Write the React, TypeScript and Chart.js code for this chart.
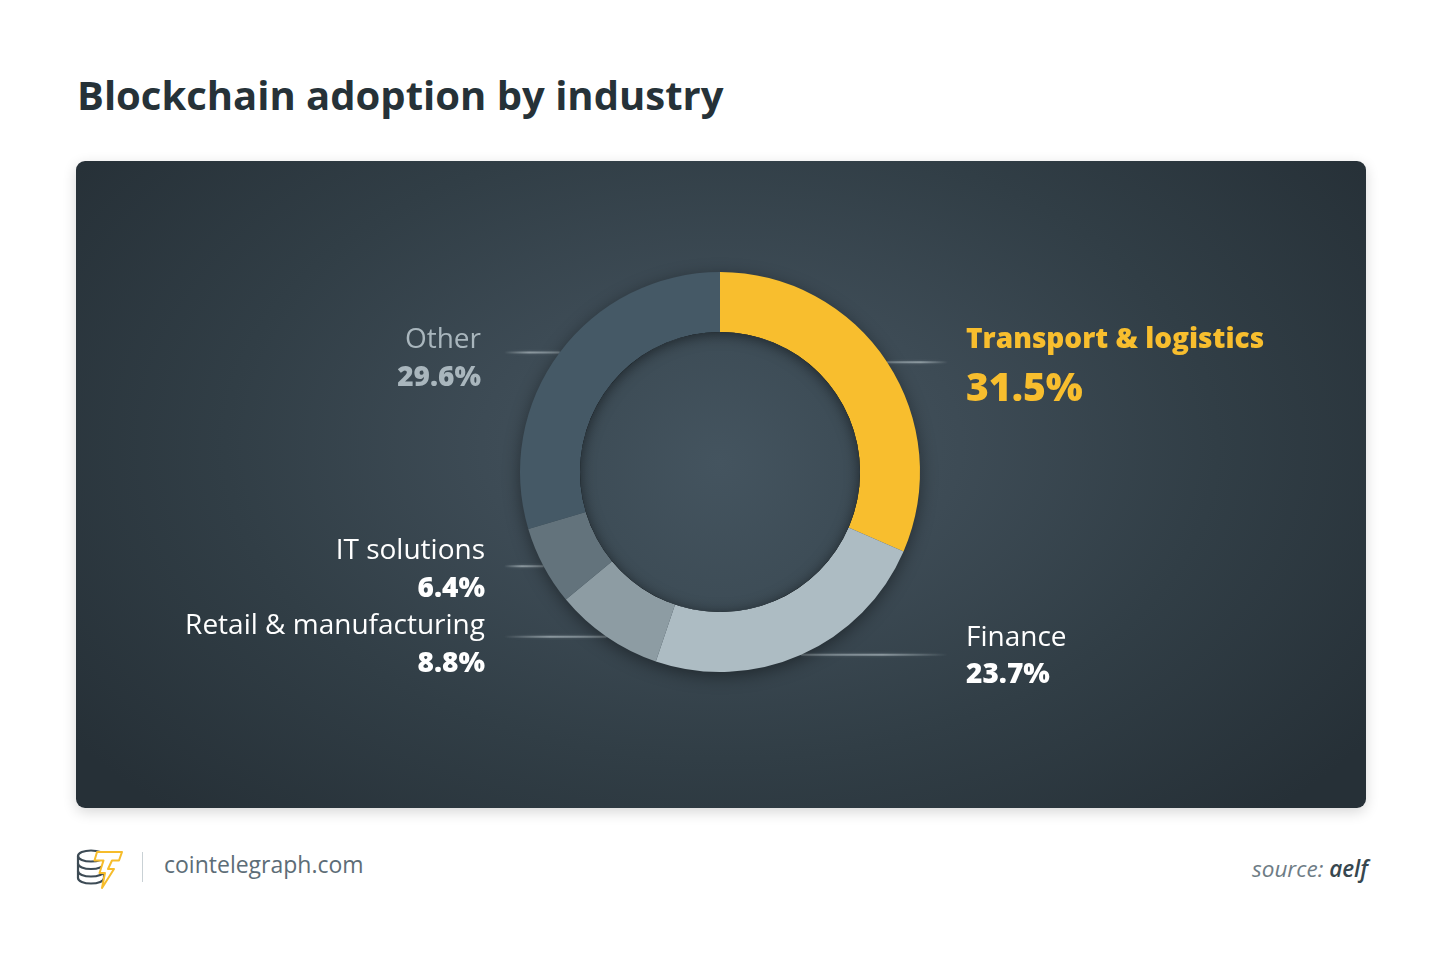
import React, { useEffect, useRef, useState } from "react";
import { Chart, registerables } from "chart.js";

Chart.register(...registerables);

// ---------- data ----------
const TITLE = "Blockchain adoption by industry";
const CATEGORIES = ["Transport & logistics", "Finance", "Retail & manufacturing", "IT solutions", "Other"];
const SHARES = [31.5, 23.7, 8.8, 6.4, 29.6];
const SITE = "cointelegraph.com";
const SOURCE_LABEL = "source:";
const SOURCE = "aelf";

// ---------- styles ----------
const SEGMENT_COLORS = ["#f8be2e", "#adbcc3", "#8d9ca3", "#63737c", "#455966"];
const LABEL_COLORS = ["#f8be2e", "#ffffff", "#ffffff", "#ffffff", "#a9b6bd"];
const FONT = "'Open Sans', 'Noto Sans', sans-serif";

// ---------- layout ----------
const CARD = { left: 76, top: 161, width: 1290, height: 647 };
const PAD = { left: 444, right: 446, top: 111, bottom: 136 };
const LINE_REACH = { right: 228, left: 216 };
// per label: horizontal gap from leader end, vertical offsets of name / value centre, sizes
const LABEL_STYLE = [
  { gap: 18, nameDy: -24, valDy: 24, nameSize: 28, valSize: 39, nameWeight: 800 },
  { gap: 18, nameDy: -19, valDy: 18, nameSize: 28, valSize: 28, nameWeight: 400 },
  { gap: 19, nameDy: -12.5, valDy: 25.5, nameSize: 28, valSize: 28, nameWeight: 400 },
  { gap: 19, nameDy: -17.5, valDy: 21, nameSize: 28, valSize: 28, nameWeight: 400 },
  { gap: 23, nameDy: -15, valDy: 23.5, nameSize: 28, valSize: 28, nameWeight: 400 },
];

type Anchor = { x: number; y: number; right: boolean; ex: number };

function arcAnchor(arc: any): Anchor {
  const p = arc.getProps(["x", "y", "startAngle", "endAngle", "outerRadius"], true);
  const mid = (p.startAngle + p.endAngle) / 2;
  const sx = p.x + Math.cos(mid) * p.outerRadius;
  const sy = p.y + Math.sin(mid) * p.outerRadius;
  const right = Math.cos(mid) >= 0;
  const ex = right ? p.x + LINE_REACH.right : p.x - LINE_REACH.left;
  return { x: sx, y: sy, right, ex };
}

const leaderPlugin = {
  id: "leaders",
  beforeDatasetsDraw(chart: any) {
    const ctx = chart.ctx as CanvasRenderingContext2D;
    const meta = chart.getDatasetMeta(0);
    meta.data.forEach((arc: any) => {
      const a = arcAnchor(arc);
      const g = ctx.createLinearGradient(a.x, a.y, a.ex, a.y);
      g.addColorStop(0, "rgba(150,163,170,0.55)");
      g.addColorStop(0.55, "rgba(160,172,178,0.75)");
      g.addColorStop(1, "rgba(160,172,178,0)");
      ctx.save();
      ctx.strokeStyle = g;
      ctx.lineWidth = 2;
      ctx.shadowColor = "rgba(190,200,205,0.35)";
      ctx.shadowBlur = 3;
      ctx.beginPath();
      ctx.moveTo(a.x, a.y);
      ctx.lineTo(a.ex, a.y);
      ctx.stroke();
      ctx.restore();
    });
    const first = meta.data[0] as any;
    if (!first) return;
    const p = first.getProps(["x", "y", "outerRadius"], true);
    ctx.save();
    ctx.shadowColor = "rgba(0,0,0,0.45)";
    ctx.shadowBlur = 18;
    ctx.shadowOffsetY = 4;
    ctx.fillStyle = "#3b4952";
    ctx.beginPath();
    ctx.arc(p.x, p.y, p.outerRadius - 1, 0, Math.PI * 2);
    ctx.fill();
    ctx.restore();
  },
  afterDatasetsDraw(chart: any) {
    const ctx = chart.ctx as CanvasRenderingContext2D;
    const meta = chart.getDatasetMeta(0);
    const first = meta.data[0] as any;
    if (!first) return;
    const p = first.getProps(["x", "y", "innerRadius"], true);
    ctx.save();
    ctx.beginPath();
    ctx.arc(p.x, p.y, p.innerRadius, 0, Math.PI * 2);
    ctx.clip();
    const rg = ctx.createRadialGradient(p.x, p.y - 10, 0, p.x, p.y, p.innerRadius);
    rg.addColorStop(0, "#44545f");
    rg.addColorStop(1, "#3d4c56");
    ctx.fillStyle = rg;
    ctx.fillRect(p.x - p.innerRadius, p.y - p.innerRadius, p.innerRadius * 2, p.innerRadius * 2);
    ctx.shadowColor = "rgba(0,0,0,0.5)";
    ctx.shadowBlur = 14;
    ctx.shadowOffsetY = 2;
    ctx.strokeStyle = "#000";
    ctx.lineWidth = 40;
    ctx.beginPath();
    ctx.arc(p.x, p.y, p.innerRadius + 20, 0, Math.PI * 2);
    ctx.stroke();
    ctx.restore();
  },
};

function Logo() {
  return (
    <svg
      width={52}
      height={46}
      viewBox="0 0 52 46"
      style={{ position: "absolute", left: 76, top: 845 }}
    >
      <g fill="none" stroke="#3d4b55" strokeWidth={2.2} strokeLinecap="round">
        <ellipse cx={15} cy={11} rx={13} ry={5.5} />
        <path d="M2 11 L2 33 M28 11 L28 33" />
        <path d="M2 18.5 A13 5.5 0 0 0 28 18.5" />
        <path d="M2 26 A13 5.5 0 0 0 28 26" />
        <path d="M2 33 A13 5.5 0 0 0 28 33" />
      </g>
      <path
        d="M21 7 L46 7 L43 15.5 L36 15.5 L32 24 L38 24 L26 43 L29 28 L23.5 28 L27.5 15.5 L18.5 15.5 Z"
        fill="#ffffff"
        stroke="#f6bc2b"
        strokeWidth={2}
        strokeLinejoin="round"
      />
    </svg>
  );
}

export default function App() {
  const canvasRef = useRef<HTMLCanvasElement | null>(null);
  const [anchors, setAnchors] = useState<Anchor[]>([]);

  useEffect(() => {
    if (!canvasRef.current) return;
    const chart = new Chart(canvasRef.current, {
      type: "doughnut",
      data: {
        labels: CATEGORIES,
        datasets: [
          {
            data: SHARES,
            backgroundColor: SEGMENT_COLORS,
            borderWidth: 0,
            hoverOffset: 0,
          },
        ],
      },
      options: {
        responsive: false,
        animation: false,
        cutout: "70%",
        events: [],
        layout: { padding: PAD },
        plugins: {
          legend: { display: false },
          tooltip: { enabled: false },
        },
      },
      plugins: [leaderPlugin as any],
    });
    const meta = chart.getDatasetMeta(0);
    setAnchors(meta.data.map((arc: any) => arcAnchor(arc)));
    return () => chart.destroy();
  }, []);

  return (
    <div
      style={{
        position: "absolute",
        left: 0,
        top: 0,
        width: 1450,
        height: 960,
        background: "#ffffff",
        fontFamily: FONT,
        overflow: "hidden",
      }}
    >
      <div
        style={{
          position: "absolute",
          left: 77,
          top: 96 - 0.53 * 40,
          fontSize: 40,
          lineHeight: "40px",
          fontWeight: 700,
          color: "#263238",
          whiteSpace: "nowrap",
        }}
      >
        {TITLE}
      </div>

      <div
        style={{
          position: "absolute",
          left: CARD.left,
          top: CARD.top,
          width: CARD.width,
          height: CARD.height,
          borderRadius: 9,
          overflow: "hidden",
          boxShadow: "0 4px 14px rgba(0,0,0,0.16)",
          background:
            "radial-gradient(ellipse 62% 78% at 50% 44%, #475660 0%, #3d4b55 30%, #313e46 62%, #263037 100%)",
        }}
      >
        <canvas
          ref={canvasRef}
          width={CARD.width}
          height={CARD.height}
          style={{ position: "absolute", left: 0, top: 0, width: CARD.width, height: CARD.height }}
        />
        {anchors.map((a, i) => {
          const st = LABEL_STYLE[i];
          const horiz: React.CSSProperties = a.right
            ? { left: a.ex + st.gap, textAlign: "left" }
            : { right: CARD.width - (a.ex - st.gap), textAlign: "right" };
          return (
            <React.Fragment key={CATEGORIES[i]}>
              <div
                style={{
                  position: "absolute",
                  ...horiz,
                  top: a.y + st.nameDy - 0.53 * st.nameSize,
                  fontSize: st.nameSize,
                  lineHeight: `${st.nameSize}px`,
                  fontWeight: st.nameWeight,
                  color: LABEL_COLORS[i],
                  whiteSpace: "nowrap",
                }}
              >
                {CATEGORIES[i]}
              </div>
              <div
                style={{
                  position: "absolute",
                  ...horiz,
                  top: a.y + st.valDy - 0.53 * st.valSize,
                  fontSize: st.valSize,
                  lineHeight: `${st.valSize}px`,
                  fontWeight: 800,
                  color: LABEL_COLORS[i],
                  whiteSpace: "nowrap",
                }}
              >
                {SHARES[i].toFixed(1) + "%"}
              </div>
            </React.Fragment>
          );
        })}
      </div>

      <Logo />
      <div style={{ position: "absolute", left: 142, top: 852, width: 1, height: 30, background: "#c9d1d5" }} />
      <div
        style={{
          position: "absolute",
          left: 164,
          top: 866 - 0.55 * 23,
          fontSize: 23,
          lineHeight: "23px",
          fontWeight: 400,
          color: "#5d6d77",
          whiteSpace: "nowrap",
        }}
      >
        {SITE}
      </div>
      <div
        style={{
          position: "absolute",
          right: 1450 - 1368,
          top: 870 - 0.55 * 22.5,
          fontSize: 22.5,
          lineHeight: "22.5px",
          fontStyle: "italic",
          whiteSpace: "nowrap",
          textAlign: "right",
        }}
      >
        <span style={{ color: "#6e7c85", fontWeight: 400 }}>{SOURCE_LABEL} </span>
        <span style={{ color: "#37474f", fontWeight: 600 }}>{SOURCE}</span>
      </div>
    </div>
  );
}
